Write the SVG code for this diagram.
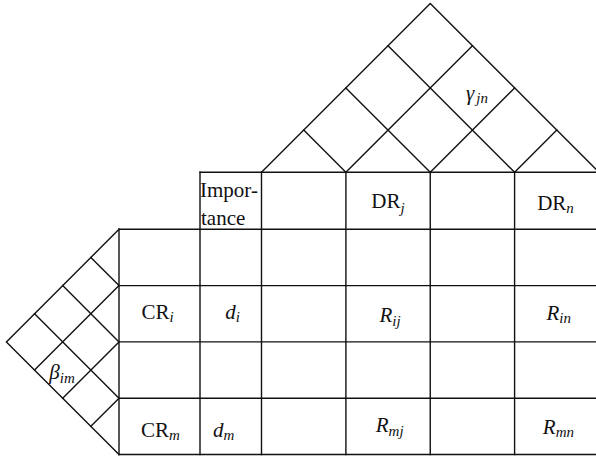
<svg xmlns="http://www.w3.org/2000/svg" width="596" height="458" viewBox="0 0 596 458">
<style>
.ln{stroke:#111;stroke-width:1.4;fill:none;stroke-linecap:square}
text{font-family:"Liberation Serif","Times New Roman",serif;font-size:21px;fill:#111}
.c{text-anchor:middle}
.it{font-style:italic}
.sb{font-size:15px;font-style:italic}
</style>
<rect width="596" height="458" fill="#fff"/>
<g id="table" class="ln">
<path d="M200 172.3H599M119 229.3H599M119 285.6H599M119 341.9H599M119 398.2H599M119 454.5H599"/>
<path d="M119 229.3V454.5M200 172.3V454.5M261.5 172.3V454.5M345.9 172.3V454.5M430.25 172.3V454.5M514.6 172.3V454.5"/>
</g>
<g id="roof" class="ln">
<path d="M261.5 172.3L430.25 3.55L599 172.3"/>
<path d="M345.875 172.3L303.69 130.11M345.875 172.3L472.44 45.74M430.25 172.3L345.875 87.925M430.25 172.3L514.625 87.925M514.625 172.3L388.06 45.74M514.625 172.3L556.81 130.11"/>
</g>
<g id="wall" class="ln">
<path d="M119 229.3L6.4 341.9L119 454.5"/>
<path d="M119 285.6L90.85 257.45M119 285.6L34.55 370.05M119 341.9L62.7 285.6M119 341.9L62.7 398.2M119 398.2L34.55 313.75M119 398.2L90.85 426.35"/>
</g>
<g id="labels">
<text x="200" y="197">Impor-</text>
<text x="201" y="224.5">tance</text>
<text class="c" x="388" y="208">DR<tspan class="sb" dy="5">j</tspan></text>
<text class="c" x="555.5" y="209.5">DR<tspan class="sb" dy="3">n</tspan></text>
<text class="c" x="477" y="100"><tspan class="it">γ</tspan><tspan class="sb" dy="3" dx="2">jn</tspan></text>
<text class="c" x="157.5" y="318.5">CR<tspan class="sb" dy="3">i</tspan></text>
<text class="c" x="232.5" y="318.5"><tspan class="it">d</tspan><tspan class="sb" dy="3">i</tspan></text>
<text class="c" x="390" y="321.5"><tspan class="it">R</tspan><tspan class="sb" dy="4">ij</tspan></text>
<text class="c" x="558.7" y="319.5"><tspan class="it">R</tspan><tspan class="sb" dy="3">in</tspan></text>
<text class="c" x="62" y="379"><tspan class="it">β</tspan><tspan class="sb" dy="4">im</tspan></text>
<text class="c" x="160.5" y="437">CR<tspan class="sb" dy="3">m</tspan></text>
<text class="c" x="223.7" y="437"><tspan class="it">d</tspan><tspan class="sb" dy="3">m</tspan></text>
<text class="c" x="389.7" y="432"><tspan class="it">R</tspan><tspan class="sb" dy="4">mj</tspan></text>
<text class="c" x="558.4" y="434"><tspan class="it">R</tspan><tspan class="sb" dy="3">mn</tspan></text>
</g>
</svg>
